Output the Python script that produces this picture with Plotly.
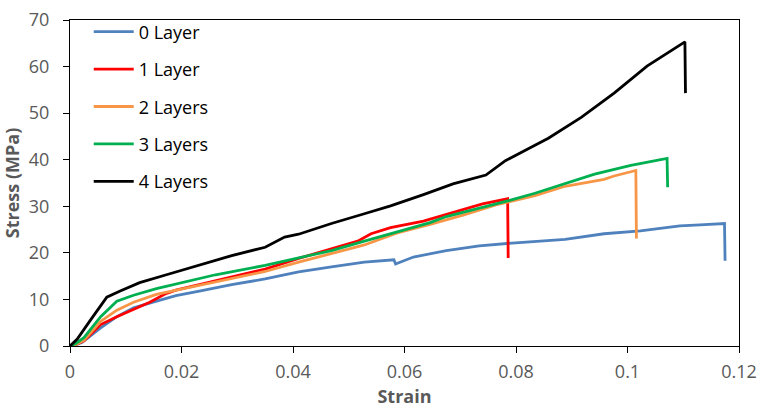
import plotly.graph_objects as go

# ---- data ----
strain_0 = [0, 0.001, 0.0022, 0.0055, 0.0084, 0.0114, 0.0149, 0.019, 0.0232, 0.029, 0.035, 0.041,
            0.0469, 0.0528, 0.0581, 0.0584, 0.0616, 0.0675, 0.0734, 0.0793, 0.0888, 0.0958, 0.1023,
            0.1059, 0.1094, 0.113, 0.1174, 0.1175]
stress_0 = [0, 0.2, 0.8, 3.9, 6.3, 8.2, 9.4, 10.8, 11.8, 13.2, 14.4, 15.9,
            17.0, 18.0, 18.5, 17.6, 19.1, 20.5, 21.5, 22.1, 22.9, 24.1, 24.7,
            25.2, 25.8, 26.0, 26.3, 18.3]

strain_1 = [0, 0.001, 0.0025, 0.0055, 0.0084, 0.0114, 0.0143, 0.0173, 0.019, 0.0232, 0.029, 0.035,
            0.041, 0.0469, 0.0516, 0.054, 0.0575, 0.0634, 0.0687, 0.074, 0.0785, 0.0786]
stress_1 = [0, 0.3, 1.1, 4.6, 6.3, 7.9, 9.4, 11.3, 12.0, 13.2, 14.8, 16.5,
            18.8, 20.9, 22.5, 24.1, 25.4, 26.8, 28.6, 30.5, 31.6, 18.9]

strain_2 = [0, 0.001, 0.0025, 0.0055, 0.0084, 0.0114, 0.0155, 0.019, 0.0261, 0.035, 0.041, 0.0469,
            0.0528, 0.0587, 0.0646, 0.0705, 0.0764, 0.0834, 0.0888, 0.0958, 0.0976, 0.1015, 0.1016]
stress_2 = [0, 0.3, 1.2, 5.3, 7.7, 9.4, 11.1, 12.0, 13.8, 16.0, 18.0, 19.8,
            21.7, 24.3, 26.1, 28.1, 30.3, 32.3, 34.3, 35.8, 36.5, 37.7, 23.1]

strain_3 = [0, 0.001, 0.0025, 0.0055, 0.0084, 0.0114, 0.0155, 0.0202, 0.0261, 0.035, 0.041, 0.0469,
            0.0528, 0.0587, 0.0646, 0.0675, 0.0734, 0.0787, 0.0834, 0.0888, 0.0941, 0.1006, 0.1071, 0.1072]
stress_3 = [0, 0.5, 1.8, 6.3, 9.6, 10.9, 12.3, 13.7, 15.3, 17.3, 18.9, 20.5,
            22.5, 24.5, 26.5, 27.8, 29.6, 31.2, 32.8, 34.9, 36.9, 38.8, 40.3, 34.1]

strain_4 = [0, 0.0013, 0.0037, 0.0066, 0.009, 0.0125, 0.0173, 0.0232, 0.029, 0.035, 0.0367, 0.0385,
            0.041, 0.0469, 0.0528, 0.0575, 0.0634, 0.0687, 0.0746, 0.0781, 0.0834, 0.0858, 0.0917,
            0.0976, 0.1035, 0.1103, 0.1104]
stress_4 = [0, 1.5, 5.6, 10.5, 11.8, 13.6, 15.3, 17.3, 19.4, 21.2, 22.2, 23.4,
            24.0, 26.3, 28.4, 30.1, 32.5, 34.8, 36.7, 39.8, 43.1, 44.6, 49.1,
            54.3, 60.1, 65.3, 54.3]

series_names = ["0 Layer", "1 Layer", "2 Layers", "3 Layers", "4 Layers"]
series_colors = ["#4F81BD", "#FF0000", "#F79646", "#00B050", "#000000"]

x_tickvals = [0, 0.02, 0.04, 0.06, 0.08, 0.1, 0.12]
x_ticktext = ["0", "0.02", "0.04", "0.06", "0.08", "0.1", "0.12"]
y_tickvals = [0, 10, 20, 30, 40, 50, 60, 70]

xs = [strain_0, strain_1, strain_2, strain_3, strain_4]
ys = [stress_0, stress_1, stress_2, stress_3, stress_4]

FONT = "Open Sans"
GRAY = "#595959"

fig = go.Figure()
for name, color, x, y in zip(series_names, series_colors, xs, ys):
    fig.add_trace(go.Scatter(x=x, y=y, mode="lines", name=name, legendgroup=name,
                             line=dict(color=color, width=2.8)))

axis_common = dict(showline=True, linecolor="black", linewidth=1, mirror=True,
                   ticks="outside", ticklen=6, tickcolor="black", tickwidth=1,
                   showgrid=False, zeroline=False, ticklabeloverflow="allow",
                   tickfont=dict(family=FONT, size=18, color=GRAY))

fig.update_layout(
    width=764, height=410,
    margin=dict(l=68, r=17, t=7, b=64),
    paper_bgcolor="white", plot_bgcolor="white",
    showlegend=True,
    legend=dict(x=0.028, y=1.02, xanchor="left", yanchor="top",
                font=dict(family=FONT, size=18, color="black"),
                tracegroupgap=11, itemwidth=40, bgcolor="rgba(0,0,0,0)"),
    xaxis=dict(range=[0, 0.12], tickvals=x_tickvals, ticktext=x_ticktext, ticklabelstandoff=3,
               title=dict(text="<b>Strain</b>", font=dict(family=FONT, size=18, color=GRAY), standoff=8),
               **axis_common),
    yaxis=dict(range=[0, 70], tickvals=y_tickvals, ticklabelstandoff=10,
               title=dict(text="<b>Stress (MPa)</b>", font=dict(family=FONT, size=18, color=GRAY), standoff=9),
               **axis_common),
)

fig.write_html("out.html")
